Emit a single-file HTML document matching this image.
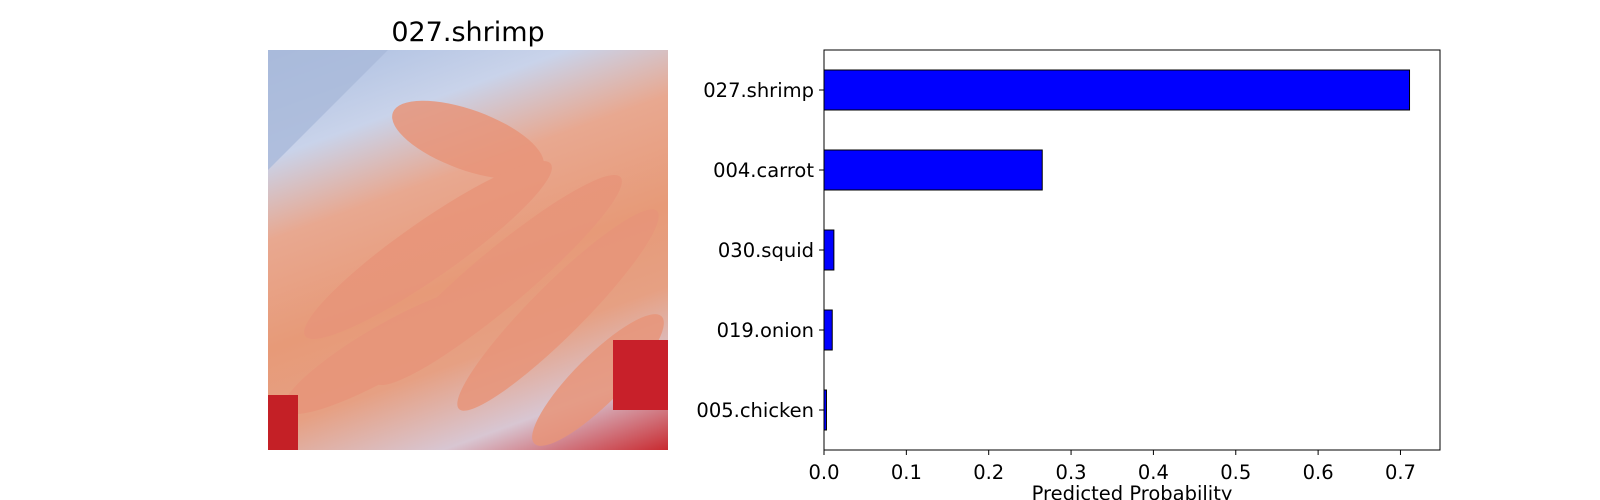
<!DOCTYPE html>
<html><head><meta charset="utf-8">
<style>
body{margin:0;background:#fff;width:1600px;height:500px;overflow:hidden;font-family:"Liberation Sans","DejaVu Sans",sans-serif;}
#wrap{position:relative;width:1600px;height:500px;}
#title{position:absolute;left:268px;width:400px;top:17px;text-align:center;font-size:27px;font-family:"DejaVu Sans","Liberation Sans",sans-serif;color:#000;}
#photo{position:absolute;left:268px;top:50px;width:400px;height:400px;overflow:hidden;
background:linear-gradient(160deg,#a9bde0 0%,#c9d3ea 20%,#e8a890 35%,#e79a78 55%,#e6a083 70%,#d8c6d2 85%,#c92a30 100%);}
</style></head><body>
<div id="wrap">
<div id="title">027.shrimp</div>
<div id="photo">
<svg width="400" height="400">
<g fill="#e8957a" opacity="0.85">
<ellipse cx="200" cy="90" rx="80" ry="30" transform="rotate(20 200 90)"/>
<ellipse cx="160" cy="200" rx="150" ry="28" transform="rotate(-35 160 200)"/>
<ellipse cx="230" cy="230" rx="160" ry="28" transform="rotate(-40 230 230)"/>
<ellipse cx="290" cy="260" rx="140" ry="26" transform="rotate(-45 290 260)"/>
<ellipse cx="120" cy="300" rx="120" ry="26" transform="rotate(-30 120 300)"/>
<ellipse cx="330" cy="330" rx="90" ry="24" transform="rotate(-45 330 330)"/>
</g>
<rect x="0" y="345" width="30" height="55" fill="#c42026"/>
<rect x="345" y="290" width="55" height="70" fill="#c8202a"/>
<polygon points="0,0 120,0 0,120" fill="#a9b9da" opacity="0.8"/>
</svg>
</div>
<svg id="chart" width="1600" height="500" style="position:absolute;left:0;top:0"></svg>
</div>
<script>
const categories=["005.chicken","019.onion","030.squid","004.carrot","027.shrimp"];
const probs=[0.003,0.010,0.012,0.265,0.711];
const xTicks=[0,0.1,0.2,0.3,0.4,0.5,0.6,0.7];
const xTickLabels=["0.0","0.1","0.2","0.3","0.4","0.5","0.6","0.7"];
const NS="http://www.w3.org/2000/svg";
const svg=document.getElementById('chart');
const L=824,R=1440,T=50,B=450,XMAX=0.748;
const FS=19.5;
const xs=v=>L+v/XMAX*(R-L);
const ys=i=>B-(i+0.5)/categories.length*(B-T);
const bh=0.5*(B-T)/categories.length;
function mk(tag,attrs){const e=document.createElementNS(NS,tag);for(const k in attrs)e.setAttribute(k,attrs[k]);svg.appendChild(e);return e;}
categories.forEach((c,i)=>{
 const r=mk('rect',{x:xs(0),y:ys(i)-bh/2,width:xs(probs[i])-xs(0),height:bh,fill:'#0000ff',stroke:'#000','stroke-width':1});
 
 
 const tk=mk('line',{x1:L-5,x2:L,y1:ys(i),y2:ys(i),stroke:'#000'});
 
 
 const t=mk('text',{x:L-10,y:ys(i)+7,'text-anchor':'end','font-size':FS,'font-family':'DejaVu Sans, Liberation Sans, sans-serif'});
 t.textContent=c;
 
 
});
xTicks.forEach((v,i)=>{
 const tk=mk('line',{x1:xs(v),x2:xs(v),y1:B,y2:B+5,stroke:'#000'});
 
 
 const t=mk('text',{x:xs(v),y:B+29,'text-anchor':'middle','font-size':FS,'font-family':'DejaVu Sans, Liberation Sans, sans-serif'});
 t.textContent=xTickLabels[i];
 
 
});
const fr=mk('rect',{x:L,y:T,width:R-L,height:B-T,fill:'none',stroke:'#000','stroke-width':1});


const xl=mk('text',{x:(L+R)/2,y:B+50,'text-anchor':'middle','font-size':FS,'font-family':'DejaVu Sans, Liberation Sans, sans-serif'});
xl.textContent='Predicted Probability';


</script>
</body></html>
